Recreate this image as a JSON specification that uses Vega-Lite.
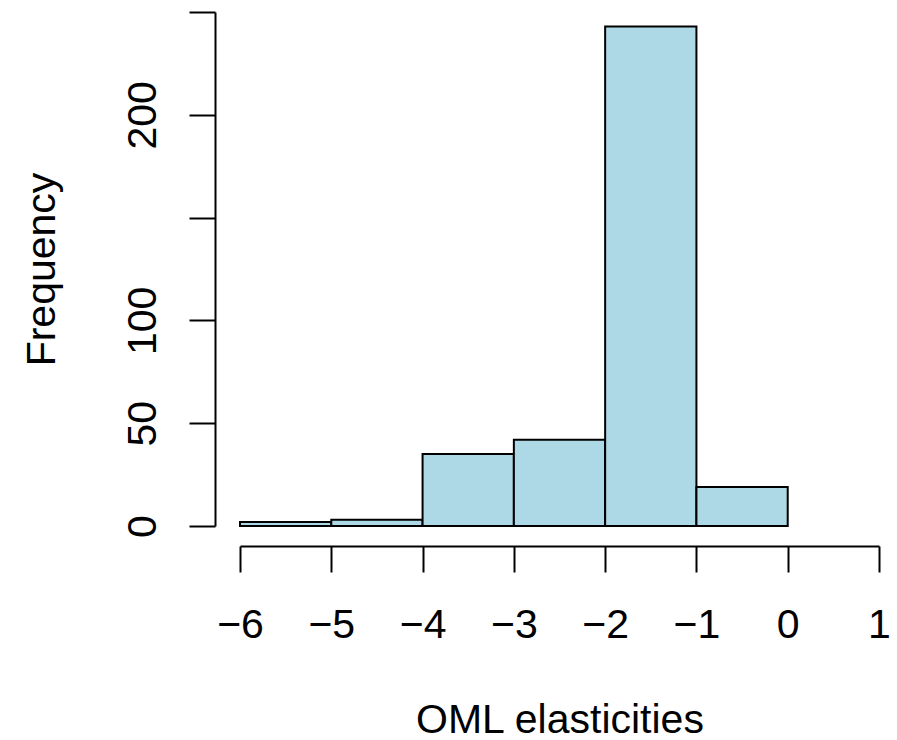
{
  "$schema": "https://vega.github.io/schema/vega-lite/v6.json",
  "width": 639,
  "height": 514,
  "autosize": {"type": "none"},
  "padding": {"left": 240, "top": 12, "right": 18, "bottom": 214},
  "background": "white",
  "config": {
    "view": {"stroke": null},
    "font": "Liberation Sans"
  },
  "data": {
    "values": [
      {"start": -6, "end": -5, "count": 2},
      {"start": -5, "end": -4, "count": 3},
      {"start": -4, "end": -3, "count": 35},
      {"start": -3, "end": -2, "count": 42},
      {"start": -2, "end": -1, "count": 243},
      {"start": -1, "end": 0, "count": 19}
    ]
  },
  "mark": {"type": "rect", "fill": "#ADD8E6", "stroke": "black", "strokeWidth": 2},
  "encoding": {
    "x": {
      "field": "start",
      "type": "quantitative",
      "scale": {"domain": [-6, 1], "nice": false, "zero": false},
      "axis": {
        "title": "OML elasticities",
        "values": [-6, -5, -4, -3, -2, -1, 0, 1],
        "format": "d",
        "offset": 20,
        "grid": false,
        "domainColor": "black",
        "domainWidth": 2,
        "tickColor": "black",
        "tickWidth": 2,
        "tickSize": 26,
        "labelFont": "Liberation Sans",
        "labelFontSize": 41,
        "labelColor": "black",
        "labelPadding": 33,
        "labelFlush": false,
        "labelOverlap": false,
        "titleFont": "Liberation Sans",
        "titleFontSize": 41,
        "titleFontWeight": "normal",
        "titleColor": "black",
        "titlePadding": 55
      }
    },
    "x2": {"field": "end"},
    "y": {
      "field": "count",
      "type": "quantitative",
      "scale": {"domain": [0, 250], "nice": false},
      "axis": {
        "title": "Frequency",
        "values": [0, 50, 100, 150, 200, 250],
        "labelExpr": "datum.value == 150 || datum.value == 250 ? '' : datum.label",
        "offset": 25,
        "grid": false,
        "domainColor": "black",
        "domainWidth": 2,
        "tickColor": "black",
        "tickWidth": 2,
        "tickSize": 26,
        "labelFont": "Liberation Sans",
        "labelFontSize": 41,
        "labelColor": "black",
        "labelAngle": -90,
        "labelAlign": "center",
        "labelBaseline": "bottom",
        "labelPadding": 25,
        "labelFlush": false,
        "labelOverlap": false,
        "titleFont": "Liberation Sans",
        "titleFontSize": 41,
        "titleFontWeight": "normal",
        "titleColor": "black",
        "titlePadding": 59
      }
    },
    "y2": {"datum": 0}
  }
}
